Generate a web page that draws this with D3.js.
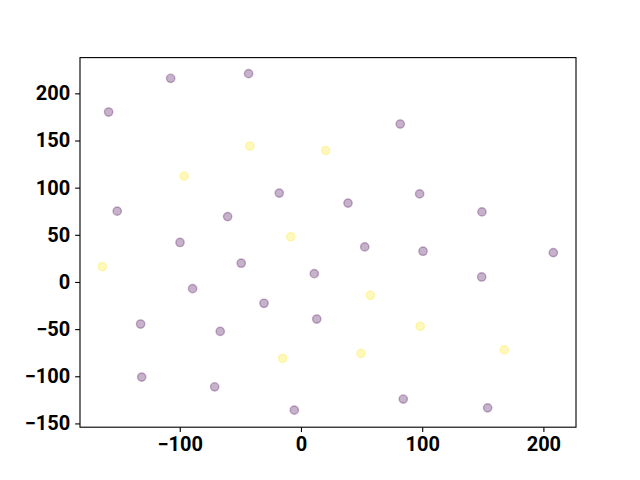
<!DOCTYPE html>
<html><head><meta charset="utf-8">
<script src="https://cdn.jsdelivr.net/npm/d3@7"></script>
<style>
body{margin:0;background:#fff;}
svg{display:block;}
.tick text{font-family:Roboto,"DejaVu Sans",sans-serif;font-weight:bold;font-size:20px;fill:#000;}
</style>
</head><body>
<svg id="c" width="640" height="480"></svg>
<script>
const xs = [-107.5,-43.2,-158.7,-42.1,20.4,-96.3,-17.9,-151.6,-60.5,-8.5,-99.8,81.9,97.9,38.8,149.3,52.6,-163.9,-49.3,11.0,-89.4,-30.5,-132.3,-66.6,13.0,-15.1,-131.4,-71.2,-5.5,100.7,208.2,149.1,57.2,98.4,49.5,167.7,84.4,154.0];
const ys = [215.9,220.9,180.2,144.1,139.4,112.2,94.2,75.1,69.3,47.8,41.9,167.5,93.4,83.6,74.3,37.2,16.2,19.9,8.8,-7.1,-22.6,-44.6,-52.4,-39.3,-81.0,-100.9,-111.2,-135.9,32.6,31.1,5.3,-14.1,-47.0,-75.7,-71.9,-124.2,-133.5];
const labels = [0,0,0,1,1,1,0,0,0,1,0,0,0,0,0,0,1,0,0,0,0,0,0,0,1,0,0,0,0,0,0,1,1,1,1,0,0];
const xTicks = [-100,0,100,200];
const yTicks = [-150,-100,-50,0,50,100,150,200];
const colors = ["#440154","#fde725"];

const L=80,R=576,T=57.6,B=427.2;
const svg=d3.select("#c");
const x=d3.scaleLinear().domain([-182.3,226.9]).range([L,R]);
const y=d3.scaleLinear().domain([-154.0,237.9]).range([B,T]);

const pts = xs.map((v,i)=>({x:v,y:ys[i],c:labels[i]}));
svg.append("g").selectAll("circle").data(pts).enter().append("circle")
  .attr("cx",d=>x(d.x)).attr("cy",d=>y(d.y)).attr("r",4.17)
  .attr("fill",d=>colors[d.c]).attr("fill-opacity",0.3)
  .attr("stroke",d=>colors[d.c]).attr("stroke-opacity",0.3).attr("stroke-width",1.39);

const fmt=d=>(d<0?"\u2212":"")+Math.abs(d);
const gx=svg.append("g").attr("transform",`translate(0,${B})`)
  .call(d3.axisBottom(x).tickValues(xTicks).tickFormat(fmt).tickSize(4.86).tickPadding(4.9));
const gy=svg.append("g").attr("transform",`translate(${L},0)`)
  .call(d3.axisLeft(y).tickValues(yTicks).tickFormat(fmt).tickSize(4.86).tickPadding(4.9));
[gx,gy].forEach(g=>{g.select(".domain").remove();g.selectAll("line").attr("stroke","#000").attr("stroke-width",1.11);});
svg.append("rect").attr("x",L).attr("y",T).attr("width",R-L).attr("height",B-T)
  .attr("fill","none").attr("stroke","#000").attr("stroke-width",1.11);
</script>
</body></html>
